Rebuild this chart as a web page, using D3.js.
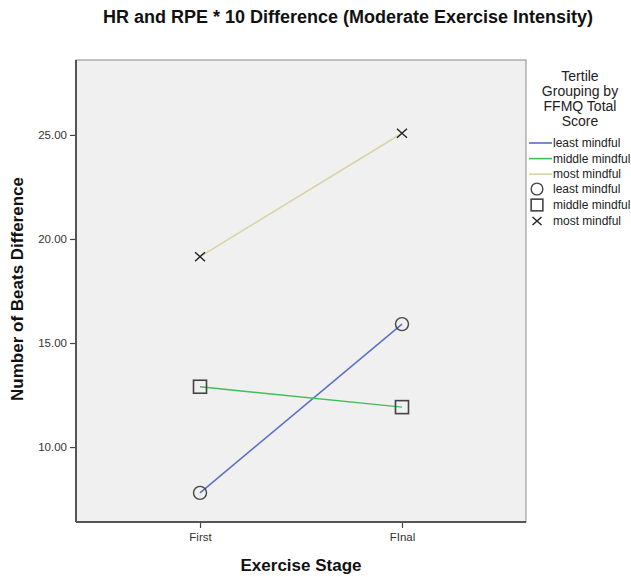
<!DOCTYPE html>
<html><head><meta charset="utf-8">
<script src="https://cdn.jsdelivr.net/npm/d3@7"></script>
<style>body{margin:0;background:#fff}svg text{font-family:"Liberation Sans",Arial,sans-serif}</style>
</head><body><svg id="c" width="631" height="577"></svg>
<script>
const stages = ["First", "FInal"];
const groups = ["least mindful", "middle mindful", "most mindful"];
const leastValues = [7.80, 15.91];
const middleValues = [12.90, 11.92];
const mostValues = [19.15, 25.08];
const yTicks = [10, 15, 20, 25];
const lineColors = ["#5b6fc4", "#3fbf55", "#d8d4a2"];
const markerTypes = ["circle", "square", "cross"];

const series = [leastValues, middleValues, mostValues];
const svg = d3.select("#c");
const L = 76, R = 526, T = 60, B = 522;

const x = d3.scalePoint().domain(stages).range([L, R]).padding(0.614);
const y = d3.scaleLinear().domain([6.4, 28.6]).range([B, T]);

svg.append("rect").attr("x", L).attr("y", T).attr("width", R - L).attr("height", B - T)
  .attr("fill", "#f0f0f0").attr("stroke", "#888").attr("stroke-width", 1);

const ya = svg.append("g").attr("transform", `translate(${L},0)`)
  .call(d3.axisLeft(y).tickValues(yTicks).tickFormat(d3.format(".2f")).tickSize(6).tickSizeOuter(0));
const xa = svg.append("g").attr("transform", `translate(0,${B})`)
  .call(d3.axisBottom(x).tickSize(6).tickSizeOuter(0));
[ya, xa].forEach(g => {
  g.select(".domain").remove();
  g.selectAll("line").attr("stroke", "#444").attr("stroke-width", 1.2);
  g.selectAll("text").attr("fill", "#333").style("font-size", "11.5px");
});
ya.selectAll("text").attr("x", -9);
xa.selectAll("text").attr("y", 11);
svg.append("line").attr("x1", L).attr("x2", L).attr("y1", T).attr("y2", B).attr("stroke", "#555").attr("stroke-width", 2);
svg.append("line").attr("x1", L).attr("x2", R).attr("y1", B).attr("y2", B).attr("stroke", "#555").attr("stroke-width", 2);

const line = d3.line().x((d, i) => x(stages[i])).y(d => y(d));
series.forEach((s, k) => {
  svg.append("path").datum(s).attr("d", line).attr("fill", "none")
    .attr("stroke", lineColors[k]).attr("stroke-width", 1.5);
});

function marker(g, type, cx, cy, sc) {
  sc = sc || 1;
  const st = "#444";
  if (type === "circle") g.append("circle").attr("cx", cx).attr("cy", cy).attr("r", 6.5 * sc).attr("fill", "none").attr("stroke", st).attr("stroke-width", 1.4);
  else if (type === "square") g.append("rect").attr("x", cx - 6.5 * sc).attr("y", cy - 6.5 * sc).attr("width", 13 * sc).attr("height", 13 * sc).attr("fill", "none").attr("stroke", st).attr("stroke-width", 1.6);
  else {
    const sx = 5 * sc, sy = 4.5 * sc;
    g.append("path").attr("d", `M${cx - sx},${cy - sy}L${cx + sx},${cy + sy}M${cx - sx},${cy + sy}L${cx + sx},${cy - sy}`).attr("stroke", "#222").attr("stroke-width", 1.4).attr("fill", "none");
  }
}
const mg = svg.append("g");
series.forEach((s, k) => s.forEach((v, i) => marker(mg, markerTypes[k], x(stages[i]), y(v))));

svg.append("text").attr("x", 348).attr("y", 23).attr("text-anchor", "middle")
  .style("font-size", "18px").style("font-weight", "bold").attr("fill", "#111")
  .text("HR and RPE * 10 Difference (Moderate Exercise Intensity)");
svg.append("text").attr("x", 301).attr("y", 571).attr("text-anchor", "middle")
  .style("font-size", "17px").style("font-weight", "bold").attr("fill", "#111").text("Exercise Stage");
svg.append("text").attr("transform", "translate(23,289) rotate(-90)").attr("text-anchor", "middle")
  .style("font-size", "17px").style("font-weight", "bold").attr("fill", "#111").text("Number of Beats Difference");

const lg = svg.append("g");
["Tertile", "Grouping by", "FFMQ Total", "Score"].forEach((t, i) => {
  lg.append("text").attr("x", 580).attr("y", 81 + i * 15).attr("text-anchor", "middle")
    .style("font-size", "14px").attr("fill", "#222").text(t);
});
groups.forEach((g, i) => {
  const yy = 143 + i * 15.6;
  lg.append("line").attr("x1", 529).attr("x2", 552).attr("y1", yy).attr("y2", yy).attr("stroke", lineColors[i]).attr("stroke-width", 1.6);
  lg.append("text").attr("x", 553).attr("y", yy + 4).style("font-size", "12px").attr("fill", "#222").text(g);
});
groups.forEach((g, i) => {
  const yy = 189 + i * 16;
  marker(lg, markerTypes[i], 537, yy, 0.9);
  lg.append("text").attr("x", 553).attr("y", yy + 4).style("font-size", "12px").attr("fill", "#222").text(g);
});
</script></body></html>
